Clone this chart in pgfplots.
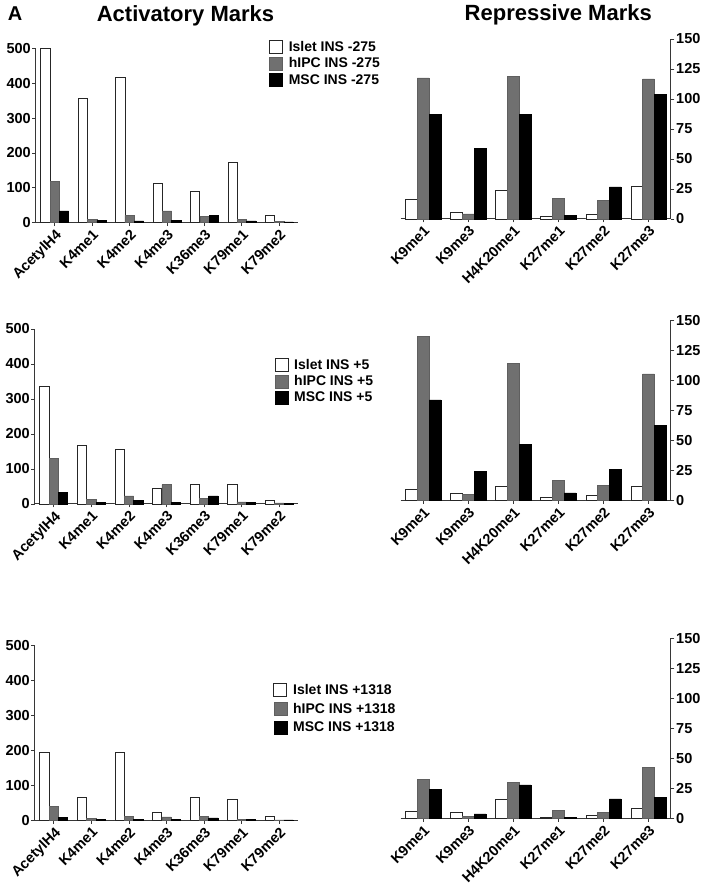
\documentclass[border=0pt]{standalone}
\usepackage{pgfplots}
\pgfplotsset{compat=1.18}
\usepackage{pgfplotstable}
\usepackage{fontspec}
\setmainfont{Liberation Sans}
\definecolor{barg}{RGB}{112,112,112}
\definecolor{axg}{RGB}{55,55,55}
\newcommand{\ticfont}{\fontsize{14.5}{16}\selectfont\bfseries}
\newcommand{\legfont}{\fontsize{14}{16}\selectfont\bfseries}
\newcommand{\titfont}{\fontsize{22}{24}\selectfont\bfseries}

% Activatory marks: x, islet (w), hIPC (g), MSC (b)
\pgfplotstableread{
x w g b
0 500 118 34
1 357 10.5 6
2 417 21 5
3 113 34 7
4 90 19 22
5 174 9.5 5
6 21 3 2
}\actA
\pgfplotstableread{
x w g b
0 337 129.5 34
1 168.6 12.4 5
2 157 23 9.5
3 45 55 5
4 56 17 23
5 56 6 5
6 10.5 3 1
}\actB
\pgfplotstableread{
x w g b
0 194.7 40 7.6
1 65 5.7 3
2 195 10.5 3
3 24 9.5 2
4 65 10.5 6.7
5 60 3 3
6 12.4 1 1
}\actC
% Repressive marks
\pgfplotstableread{
x w g b
0 16.4 117.5 87
1 5.3 4.2 58.6
2 23.9 119 87
3 2.2 17 3.3
4 3.9 15.6 26.7
5 27.5 116.7 104
}\repA
\pgfplotstableread{
x w g b
0 9.4 136.7 83.6
1 6.1 4.7 24.4
2 12 114 46.7
3 2.2 16.7 6.1
4 3.9 12.5 25.8
5 11.4 105.3 62.2
}\repB
\pgfplotstableread{
x w g b
0 5.8 32.2 24.4
1 5.3 1.4 3.6
2 16.1 30 27.8
3 0.6 6.9 0.8
4 2.2 4.7 16.1
5 8 42.2 17.2
}\repC

\pgfplotsset{
  base/.style={
    scale only axis, ybar=0pt, ymin=0, xmin=-0.5, clip=false,
    axis line style={axg, line width=1pt},
    tick style={axg, line width=0.8pt},
    tick align=outside, major tick length=3.5pt,
    xtick={0,...,6},
    xticklabel style={rotate=45, anchor=north east, font=\ticfont, inner sep=1.5pt},
    yticklabel style={font=\ticfont, inner sep=1.5pt},
    /pgf/number format/assume math mode=true,
    legend image code/.code={\draw[##1] (0pt,-6.5pt) rectangle (13pt,6.5pt); \path (18.5pt,0pt);},
    legend style={draw=none, fill=none, font=\legfont, inner sep=0pt,
      row sep=3pt, nodes={inner sep=0.5pt}},
    legend cell align=left,
  },
  act/.style={base, width=262pt, xmax=6.5, ymax=500, ytick={0,100,...,500},
    bar width=9.3pt, axis lines*=left,
    xticklabels={AcetylH4,K4me1,K4me2,K4me3,K36me3,K79me1,K79me2}},
  rep/.style={base, width=270.3pt, height=180pt, xmax=5.5, ymax=150,
    ytick={0,25,...,150}, bar width=11.7pt,
    axis x line*=bottom, axis y line*=right,
    xticklabels={K9me1,K9me3,H4K20me1,K27me1,K27me2,K27me3}},
  pw/.style={fill=white, draw=black!85, line width=0.7pt},
  pg/.style={fill=barg, draw=barg!85!black, line width=0.5pt},
  pb/.style={fill=black, draw=black, line width=0.5pt},
}

\begin{document}
\begin{tikzpicture}
\useasboundingbox (0pt,0pt) rectangle (708pt,891pt);
\node[font=\fontsize{20}{22}\selectfont\bfseries, anchor=base] at (15pt,870pt) {A};
\node[font=\titfont, anchor=base] at (185.5pt,869.3pt) {Activatory Marks};
\node[font=\titfont, anchor=base] at (558.3pt,870.3pt) {Repressive Marks};

% Row 1
\begin{axis}[act, at={(36pt,668.3pt)}, anchor=south west, height=174.4pt,
  legend style={at={(axis description cs:0.889,1.048)}, anchor=north west}]
\addplot[pw] table[x=x,y=w]{\actA};
\addplot[pg] table[x=x,y=g]{\actA};
\addplot[pb] table[x=x,y=b]{\actA};
\legend{Islet INS -275, hIPC INS -275, MSC INS -275}
\end{axis}
\begin{axis}[rep, at={(400.7pt,672pt)}, anchor=south west]
\addplot[pw] table[x=x,y=w]{\repA};
\addplot[pg] table[x=x,y=g]{\repA};
\addplot[pb] table[x=x,y=b]{\repA};
\end{axis}

% Row 2
\begin{axis}[act, at={(35pt,387pt)}, anchor=south west, width=263pt, height=175pt,
  legend style={at={(axis description cs:0.91,0.836)}, anchor=north west}]
\addplot[pw] table[x=x,y=w]{\actB};
\addplot[pg] table[x=x,y=g]{\actB};
\addplot[pb] table[x=x,y=b]{\actB};
\legend{Islet INS +5, hIPC INS +5, MSC INS +5}
\end{axis}
\begin{axis}[rep, at={(400.7pt,390.7pt)}, anchor=south west]
\addplot[pw] table[x=x,y=w]{\repB};
\addplot[pg] table[x=x,y=g]{\repB};
\addplot[pb] table[x=x,y=b]{\repB};
\end{axis}

% Row 3
\begin{axis}[act, at={(35pt,70.7pt)}, anchor=south west, width=263pt, height=174.6pt,
  legend style={at={(axis description cs:0.906,0.785)}, anchor=north west, row sep=5pt}]
\addplot[pw] table[x=x,y=w]{\actC};
\addplot[pg] table[x=x,y=g]{\actC};
\addplot[pb] table[x=x,y=b]{\actC};
\legend{Islet INS +1318, hIPC INS +1318, MSC INS +1318}
\end{axis}
\begin{axis}[rep, at={(400.7pt,72.7pt)}, anchor=south west]
\addplot[pw] table[x=x,y=w]{\repC};
\addplot[pg] table[x=x,y=g]{\repC};
\addplot[pb] table[x=x,y=b]{\repC};
\end{axis}
\end{tikzpicture}
\end{document}
